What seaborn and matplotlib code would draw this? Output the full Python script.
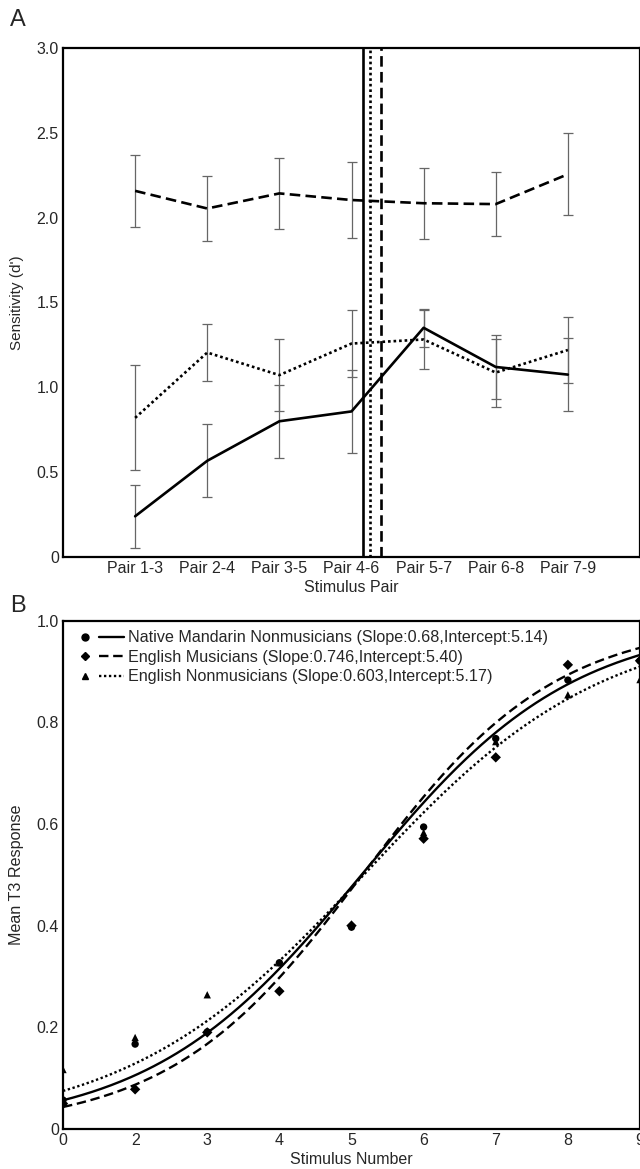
import numpy as np
import pandas as pd
import matplotlib
matplotlib.use("Agg")
import matplotlib.pyplot as plt
import seaborn as sns
from matplotlib.lines import Line2D
from matplotlib.legend_handler import HandlerTuple

# ---------------- Data: panel A ----------------
pairs = ["Pair 1-3", "Pair 2-4", "Pair 3-5", "Pair 4-6", "Pair 5-7", "Pair 6-8", "Pair 7-9"]
groups = ["Native Mandarin Nonmusicians", "English Musicians", "English Nonmusicians"]
dprime_mandarin = [0.24, 0.567, 0.80, 0.858, 1.351, 1.12, 1.075]
dprime_eng_mus = [2.158, 2.054, 2.143, 2.104, 2.085, 2.08, 2.256]
dprime_eng_non = [0.82, 1.205, 1.072, 1.258, 1.282, 1.087, 1.22]
se_mandarin = [0.187, 0.215, 0.214, 0.243, 0.112, 0.19, 0.213]
se_eng_mus = [0.213, 0.19, 0.209, 0.225, 0.21, 0.19, 0.242]
se_eng_non = [0.31, 0.166, 0.211, 0.2, 0.176, 0.2, 0.195]
boundary_pos = [4.16, 4.41, 4.25]  # category boundaries (pair-axis units)

# ---------------- Data: panel B ----------------
stim_labels = ["0", "2", "3", "4", "5", "6", "7", "8", "9"]
resp_mandarin = [0.057, 0.167, 0.191, 0.327, 0.397, 0.594, 0.768, 0.883, 0.921]
resp_eng_mus = [0.05, 0.078, 0.19, 0.271, 0.40, 0.571, 0.731, 0.913, 0.921]
resp_eng_non = [0.117, 0.180, 0.264, 0.327, 0.403, 0.583, 0.762, 0.854, 0.884]
fit_slope = [0.68, 0.746, 0.603]
fit_mid = [5.14, 5.15, 5.17]
legend_labels = ["Native Mandarin Nonmusicians (Slope:0.68,Intercept:5.14)",
                 "English Musicians (Slope:0.746,Intercept:5.40)",
                 "English Nonmusicians (Slope:0.603,Intercept:5.17)"]

sns.set_style("white")
plt.rcParams['font.family'] = ['Liberation Sans', 'DejaVu Sans']

dash_map = {groups[0]: "", groups[1]: (4, 2), groups[2]: (1, 1.1)}
ls_map = {groups[0]: "-", groups[1]: (0, (4, 2)), groups[2]: (0, (1, 1.1))}
marker_map = {groups[0]: "o", groups[1]: "D", groups[2]: "^"}

fig = plt.figure(figsize=(6.4, 11.69), dpi=100)
W, H = 640, 1169
axA = fig.add_axes([63 / W, 1 - 557 / H, (640 - 63) / W, (557 - 48) / H])
axB = fig.add_axes([63 / W, 1 - 1129 / H, (640 - 63) / W, (1129 - 620.6) / H])

# ---------- Panel A ----------
xpos = np.arange(1, len(pairs) + 1)
dfA = pd.DataFrame({
    "x": np.tile(xpos, 3),
    "d": dprime_mandarin + dprime_eng_mus + dprime_eng_non,
    "group": np.repeat(groups, len(pairs)),
})
for vals, errs in [(dprime_mandarin, se_mandarin), (dprime_eng_mus, se_eng_mus), (dprime_eng_non, se_eng_non)]:
    axA.errorbar(xpos, vals, yerr=errs, fmt="none", ecolor="#666666", elinewidth=0.9,
                 capsize=3.6, capthick=0.9, zorder=2)
sns.lineplot(data=dfA, x="x", y="d", style="group", dashes=dash_map, color="black",
             linewidth=1.9, ax=axA, legend=False, zorder=3)
for g, bx in zip(groups, boundary_pos):
    axA.axvline(bx, color="black", linestyle=ls_map[g], linewidth=1.9, zorder=4)

axA.set_xlim(0, 8)
axA.set_ylim(0, 3.0)
axA.set_xticks(xpos)
axA.set_xticklabels(pairs)
axA.set_yticks([0, 0.5, 1.0, 1.5, 2.0, 2.5, 3.0])
axA.set_yticklabels(["0", "0.5", "1.0", "1.5", "2.0", "2.5", "3.0"])
axA.tick_params(axis="x", direction="in", length=6, width=1, labelsize=11.5, pad=3, color="black")
axA.tick_params(axis="y", length=0, labelsize=11.5, pad=3)
axA.set_xlabel("Stimulus Pair", fontsize=11.5, labelpad=3)
axA.set_ylabel("Sensitivity (d')", fontsize=11, labelpad=9)
for s in axA.spines.values():
    s.set_color("black")
    s.set_linewidth(1.6)

# ---------- Panel B ----------
spos = np.arange(1, len(stim_labels) + 1)
dfB = pd.DataFrame({
    "x": np.tile(spos, 3),
    "r": resp_mandarin + resp_eng_mus + resp_eng_non,
    "group": np.repeat(groups, len(spos)),
})
xf = np.linspace(1, 9, 300)
curves = []
for g, s, m in zip(groups, fit_slope, fit_mid):
    curves.append(pd.DataFrame({"x": xf, "r": 1 / (1 + np.exp(-s * (xf - m))), "group": g}))
dfC = pd.concat(curves, ignore_index=True)

sns.lineplot(data=dfC, x="x", y="r", style="group", dashes=dash_map, color="black",
             linewidth=1.7, ax=axB, legend=False)
sns.scatterplot(data=dfB, x="x", y="r", style="group", markers=marker_map, color="black",
                s=28, edgecolor="black", linewidth=0, ax=axB, legend=False, zorder=5)

axB.set_xlim(1, 9)
axB.set_ylim(0, 1.0)
axB.set_xticks(spos)
axB.set_xticklabels(stim_labels)
axB.set_yticks([0, 0.2, 0.4, 0.6, 0.8, 1.0])
axB.set_yticklabels(["0", "0.2", "0.4", "0.6", "0.8", "1.0"])
axB.tick_params(axis="both", direction="in", length=6, width=1, labelsize=11.5, pad=3, color="black")
axB.set_xlabel("Stimulus Number", fontsize=11.5, labelpad=3)
axB.set_ylabel("Mean T3 Response", fontsize=11.6, labelpad=9)
for s in axB.spines.values():
    s.set_color("black")
    s.set_linewidth(1.6)

handles = []
for g in groups:
    mk = Line2D([], [], marker=marker_map[g], color="black", linestyle="none",
                markersize=5 if g != groups[1] else 4.2)
    ln = Line2D([], [], color="black", linestyle=ls_map[g], linewidth=1.7)
    handles.append((mk, ln))
axB.legend(handles, legend_labels, handler_map={tuple: HandlerTuple(ndivide=None, pad=0.1)},
           loc="upper left", bbox_to_anchor=(0.0, 1.0), frameon=False, fontsize=11.6,
           handlelength=3.2, handletextpad=0.25, labelspacing=0.28, borderaxespad=0.3,
           borderpad=0.3)

fig.text(10 / W, 1 - 20 / H, "A", fontsize=17, va="center", ha="left")
fig.text(10 / W, 1 - 606 / H, "B", fontsize=17, va="center", ha="left")

fig.savefig("out.png", dpi=100)
